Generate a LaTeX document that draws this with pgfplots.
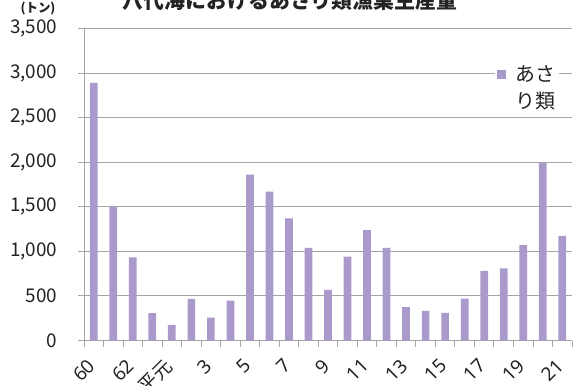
\documentclass[border=0pt]{standalone}
\usepackage{graphicx}
\usepackage{pgfplots}
\pgfplotsset{compat=1.18}
\usepackage{fontspec}
\setmainfont{Noto Sans CJK JP}
\newfontfamily\numfont{Noto Sans}
\definecolor{asari}{RGB}{170,154,204}
\definecolor{gridgray}{RGB}{165,165,165}
\definecolor{txt}{RGB}{35,35,35}
\newcommand{\tl}[1]{\rotatebox{45}{\numfont #1}}
\newcommand{\tlj}[1]{\rotatebox{45}{#1}}

\begin{document}
\begin{tikzpicture}[x=1bp,y=1bp]
\begin{axis}[
  at={(84bp,44.5bp)}, anchor=south west,
  scale only axis, width=488bp, height=312bp,
  xmin=-0.5, xmax=24.5, ymin=0, ymax=3500,
  axis x line=bottom, axis y line=left,
  axis line style={gridgray, -, line width=0.9bp},
  tick style={gridgray, line width=0.9bp},
  tick align=outside, major tick length=6bp,
  ytick={0,500,...,3500},
  ymajorgrids, grid style={gridgray, line width=0.9bp},
  yticklabel style={font=\fontsize{19}{21}\selectfont, text=txt, xshift=-17bp,
    /pgf/number format/1000 sep={,}, /pgf/number format/assume math mode=true},
  % tick marks sit between the categories
  xtick={-0.5,0.5,...,24.5},
  xticklabels={},
  % every second category is labelled
  extra x ticks={0,2,...,24},
  extra x tick labels={\tl{60},\tl{62},\tlj{平元},\tl{3},\tl{5},\tl{7},\tl{9},
    \tl{11},\tl{13},\tl{15},\tl{17},\tl{19},\tl{21}},
  extra x tick style={tick style={draw=none}},
  xticklabel style={font=\fontsize{19}{21}\selectfont, text=txt,
      xshift=3bp, yshift=-11bp, anchor=north east, inner sep=0bp},
  legend style={at={(rel axis cs:0.842,0.895)}, anchor=north west,
    fill=white, draw=none, inner sep=2bp, row sep=5bp, column sep=7bp,
    font=\fontsize{20}{23}\selectfont, text=txt},
  legend cell align=left,
]
\addplot[ybar, bar width=7.7bp, fill=asari, draw=none,
  legend image code/.code={\fill[asari] (0bp,-4.5bp) rectangle (9bp,4.5bp);}]
  coordinates {
  (0,2890) (1,1500) (2,933) (3,308) (4,175) (5,466) (6,256) (7,448)
  (8,1860) (9,1670) (10,1370) (11,1040) (12,567) (13,940) (14,1238)
  (15,1040) (16,374) (17,332) (18,310) (19,470) (20,780) (21,810)
  (22,1070) (23,1991) (24,1175)
  };
\addlegendentry{あさ}
\addlegendimage{empty legend}
\addlegendentry{り類}
\end{axis}
% chart title and unit label
\node[anchor=base, font=\fontsize{21}{24}\selectfont\bfseries, text=txt] at (290,377) {八代海におけるあさり類漁業生産量};
\node[anchor=base, font=\fontsize{12.5}{15}\selectfont\bfseries, text=txt] at (38,373) {(トン)};
\pgfresetboundingbox
\useasboundingbox (0,0) rectangle (577,385);
\end{tikzpicture}
\end{document}
